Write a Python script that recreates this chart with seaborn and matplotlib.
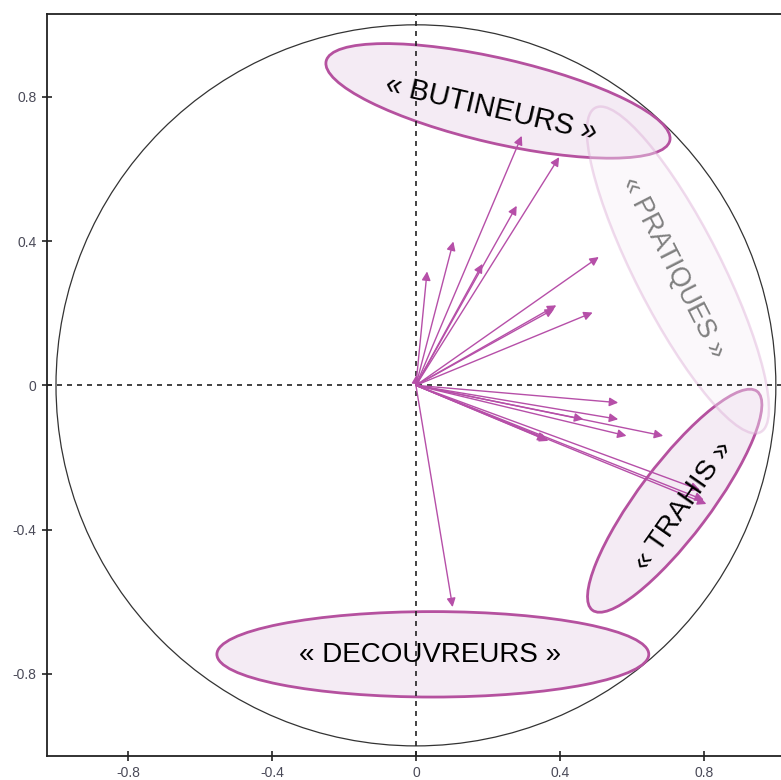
import numpy as np
import seaborn as sns
import matplotlib
matplotlib.use("Agg")
import matplotlib.pyplot as plt
from matplotlib.patches import Ellipse, Circle

# arrow tips (correlations with the two axes)
arrow_x = [0.294, 0.398, 0.280, 0.104, 0.031, 0.185, 0.508, 0.384, 0.390, 0.491, 0.002,
           0.562, 0.562, 0.465, 0.585, 0.687, 0.363, 0.368, 0.789, 0.807, 0.800, 0.102]
arrow_y = [0.692, 0.633, 0.498, 0.399, 0.316, 0.337, 0.356, 0.212, 0.222, 0.202, 0.030,
           -0.048, -0.094, -0.094, -0.140, -0.140, -0.151, -0.154, -0.290, -0.329, -0.318, -0.615]

# groups drawn as ellipses
group_labels = ["« BUTINEURS »", "« DECOUVREURS »", "« TRAHIS »", "« PRATIQUES »"]
group_cx = [0.228, 0.047, 0.719, 0.728]
group_cy = [0.789, -0.746, -0.320, 0.320]
group_w = [0.98, 1.20, 0.76, 1.01]
group_h = [0.235, 0.237, 0.20, 0.24]
group_angle = [-13, 0, 53, -63]
label_x = [0.208, 0.040, 0.745, 0.714]
label_y = [0.769, -0.747, -0.335, 0.326]
label_rot = [-13, 0, 55, -63]
label_size = [21, 20, 20.5, 19.5]

ticks = [-0.8, -0.4, 0, 0.4, 0.8]
tick_labels = ["-0.8", "-0.4", "0", "0.4", "0.8"]

sns.set_theme(style="white")
plt.rcParams['font.family'] = ['Liberation Sans', 'DejaVu Sans']

purple = '#b64fa8'

fig = plt.figure(figsize=(7.81, 7.80), dpi=100)
ax = fig.add_axes([47 / 781, 24 / 780, 740 / 781, 742 / 780])
ax.set_xlim(-1.025, 1.031)
ax.set_ylim(-1.028, 1.030)

# unit circle
ax.add_patch(Circle((0, 0), 1, fill=False, ec='#333333', lw=0.9, zorder=1))

# group ellipses
for i in range(3):
    ax.add_patch(Ellipse((group_cx[i], group_cy[i]), group_w[i], group_h[i],
                         angle=group_angle[i], fc='#f4ebf4', ec='#b5519f', lw=2, zorder=2))
ax.add_patch(Ellipse((group_cx[3], group_cy[3]), group_w[3], group_h[3],
                     angle=group_angle[3], fc='#f7eff7', ec='#d9a5d2', lw=1.8,
                     alpha=0.4, zorder=3))

# dashed axes through origin
ax.axhline(0, color='#222222', lw=1.2, ls=(0, (3, 3)), zorder=4)
ax.axvline(0, color='#222222', lw=1.2, ls=(0, (3, 3)), zorder=4)

# variable arrows
for x, y in zip(arrow_x, arrow_y):
    ax.annotate('', xy=(x, y), xytext=(0, 0),
                arrowprops=dict(arrowstyle='-|>', color=purple, lw=1.0,
                                mutation_scale=13, shrinkA=0, shrinkB=0),
                zorder=5)

# group labels
for i, lab in enumerate(group_labels):
    col = '#808080' if i == 3 else 'black'
    ax.text(label_x[i], label_y[i], lab, rotation=label_rot[i], fontsize=label_size[i],
            color=col, ha='center', va='center', rotation_mode='anchor', zorder=6)

ax.set_xticks(ticks)
ax.set_xticklabels(tick_labels)
ax.set_yticks(ticks)
ax.set_yticklabels(tick_labels)
ax.tick_params(direction='inout', length=7, width=1.2, color='#222222',
               labelsize=10, labelcolor='#4a4a58', pad=4, left=True, bottom=True)
for side in ['left', 'bottom', 'top', 'right']:
    ax.spines[side].set_color('#222222')
    ax.spines[side].set_linewidth(1.3)

plt.savefig("out.png", dpi=100, facecolor='w')
